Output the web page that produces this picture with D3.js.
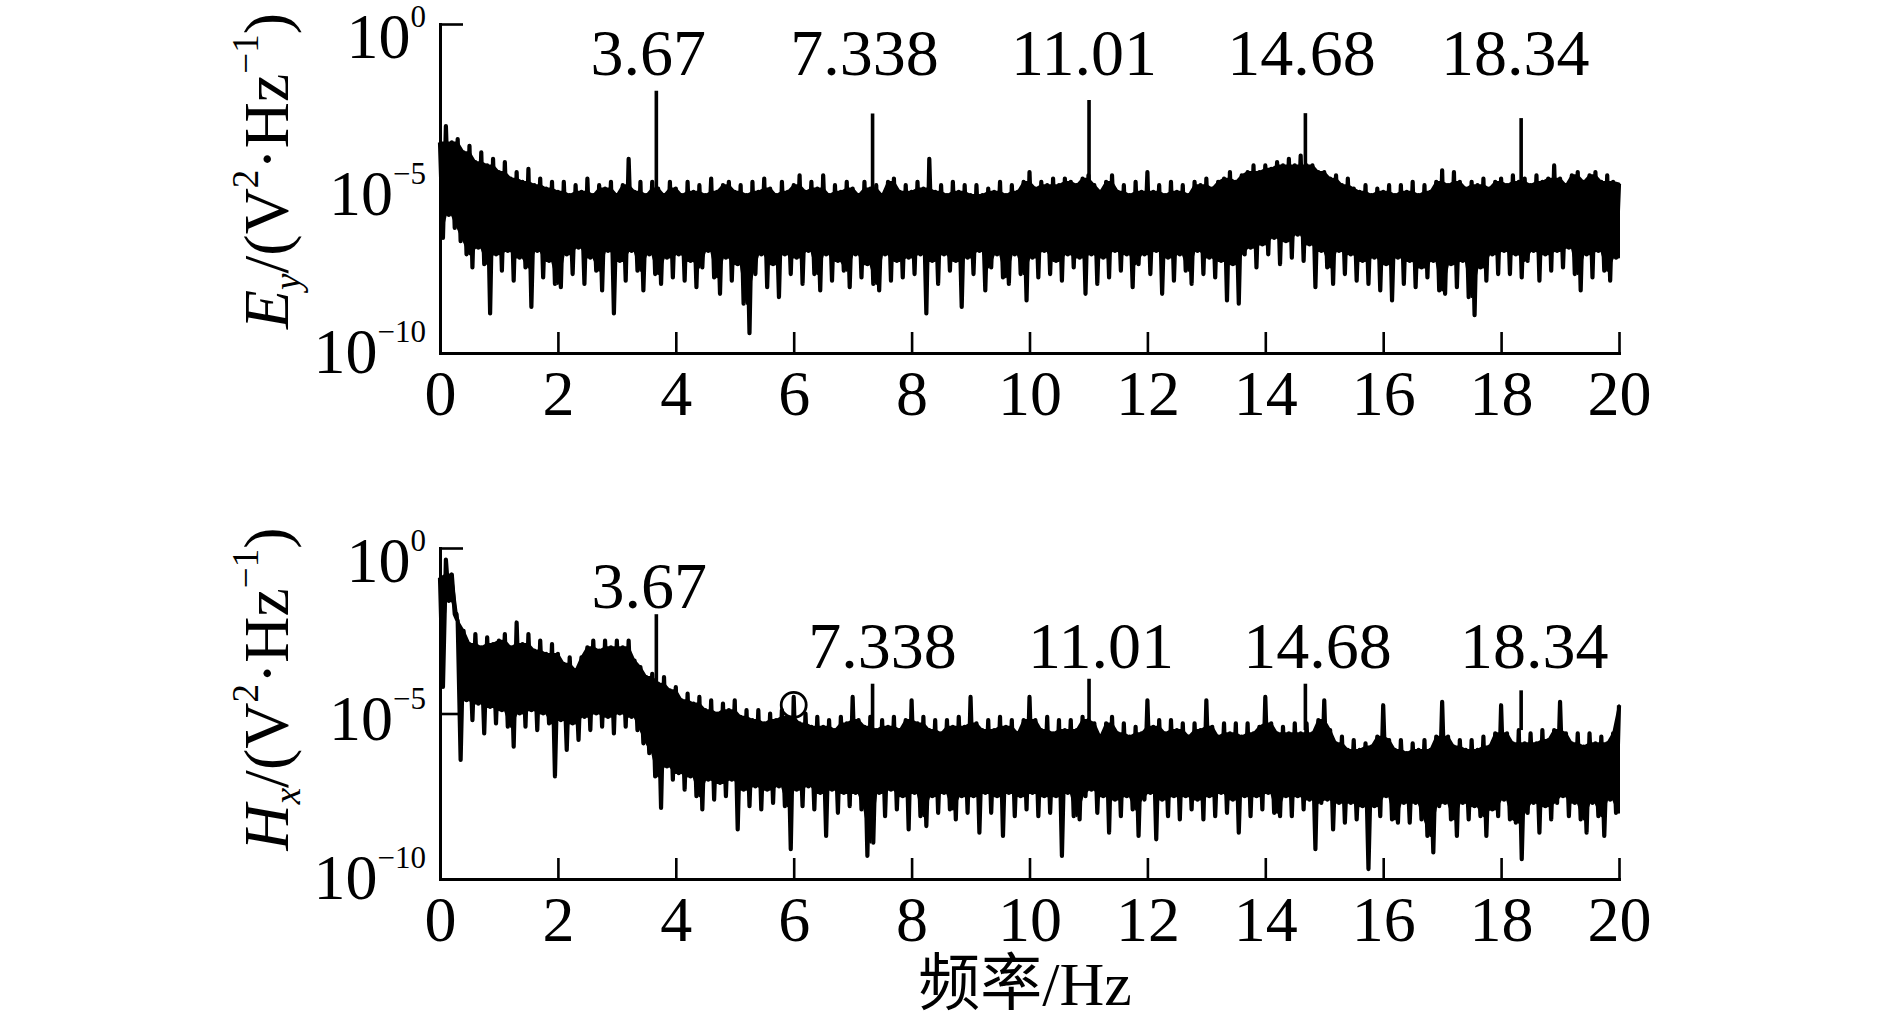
<!DOCTYPE html>
<html><head><meta charset="utf-8">
<script src="https://cdn.jsdelivr.net/npm/d3@7"></script>
<style>
html,body{margin:0;padding:0;background:#fff;}
svg{display:block;}
text{font-family:"Liberation Serif","Times New Roman",serif;fill:#000;}
</style></head><body>
<svg id="chart" width="1889" height="1025"></svg>
<script>
// ---------------- data ----------------
const STEP = 0.1; // Hz between upper-envelope readings; lower readings sit half a step later
const xTicks = [0,2,4,6,8,10,12,14,16,18,20];
const yTickExps = [0,-5,-10];
const peakFreqs = [3.67, 7.338, 11.01, 14.68, 18.34];
const peakLabels = ["3.67","7.338","11.01","14.68","18.34"];
const eyPeakExp = [-2.03,-2.72,-2.31,-2.71,-2.86];
const hxPeakExp = [-2.0,-4.1,-3.95,-4.1,-4.3];
const markFreq = 6.0, markExp = -4.74;

// log10 of PSD, upper readings at 0,0.1,...,20 Hz
const eyHi = [
-3.6,-3.1,-3.6,-3.5,-3.9,-3.7,-4.2,-3.9,-4.3,-4.1,
-4.5,-4.2,-4.7,-4.5,-4.8,-4.4,-4.9,-4.7,-5.0,-4.8,
-5.1,-4.8,-5.2,-4.9,-5.1,-4.7,-5.2,-4.9,-5.0,-4.8,
-5.2,-4.9,-4.1,-5.1,-4.8,-5.2,-4.8,-5.0,-5.2,-4.8,
-5.0,-5.2,-4.8,-5.1,-4.9,-5.2,-4.7,-5.1,-4.9,-4.8,
-5.1,-4.9,-5.2,-4.8,-5.1,-4.7,-5.0,-5.2,-4.8,-5.1,
-4.9,-4.6,-5.1,-4.8,-5.0,-4.6,-5.2,-4.9,-5.1,-4.8,
-5.0,-5.2,-4.8,-5.0,-4.9,-5.2,-4.8,-4.7,-5.1,-4.9,
-5.1,-4.8,-5.0,-4.1,-5.1,-4.9,-5.2,-4.8,-5.1,-4.9,
-5.2,-4.9,-5.2,-5.0,-5.1,-4.8,-5.2,-4.9,-5.1,-4.8,
-4.5,-5.0,-4.8,-4.9,-4.7,-4.9,-4.7,-4.8,-4.9,-4.7,
-4.6,-4.9,-5.1,-4.8,-4.6,-5.1,-4.9,-5.2,-4.8,-5.1,
-4.5,-5.1,-4.9,-5.2,-4.8,-5.1,-4.9,-5.2,-4.8,-4.9,
-4.7,-5.0,-4.8,-4.7,-4.5,-4.8,-4.6,-4.5,-4.3,-4.5,
-4.3,-4.4,-4.2,-4.3,-4.1,-4.3,-4.0,-4.3,-4.3,-4.5,
-4.5,-4.7,-4.6,-4.9,-4.7,-5.0,-5.1,-4.9,-5.2,-5.0,
-5.1,-4.9,-5.2,-4.9,-5.1,-4.8,-5.2,-4.9,-5.1,-4.8,
-4.45,-4.9,-4.5,-4.8,-5.0,-4.8,-4.9,-4.7,-5.0,-4.8,
-4.7,-4.9,-4.6,-4.8,-4.7,-4.9,-4.6,-4.8,-4.7,-4.3,
-4.7,-4.9,-4.6,-4.5,-4.8,-4.6,-4.5,-4.8,-4.6,-4.8,
-4.85];
// lower readings at 0.05,0.15,...,19.95 Hz
const eyLo = [
-6.5,-5.8,-6.2,-6.6,-7.0,-7.4,-6.8,-7.3,-8.8,-7.0,
-7.5,-6.9,-7.8,-7.1,-7.4,-8.6,-6.9,-7.7,-7.2,-7.9,
-8.0,-7.0,-7.6,-6.8,-7.9,-7.1,-7.5,-8.1,-6.9,-8.8,
-7.2,-7.8,-6.9,-7.5,-8.1,-7.0,-7.6,-7.9,-7.1,-7.7,
-7.0,-7.8,-7.2,-8.0,-7.4,-6.9,-7.7,-8.2,-7.1,-7.8,
-7.3,-8.5,-9.4,-7.6,-7.0,-8.0,-7.3,-8.3,-7.0,-7.6,
-7.1,-7.9,-6.9,-7.6,-8.1,-7.0,-7.8,-7.2,-7.5,-8.0,
-7.0,-7.7,-7.3,-7.9,-8.1,-7.0,-7.8,-7.2,-7.7,-7.1,
-7.6,-7.0,-8.8,-7.2,-7.9,-7.0,-7.5,-7.2,-8.6,-7.1,
-7.6,-6.9,-8.1,-7.4,-7.0,-7.7,-7.9,-7.0,-7.6,-8.4,
-7.1,-7.7,-6.9,-7.6,-7.2,-7.8,-7.0,-7.4,-7.1,-8.2,
-7.0,-7.9,-7.1,-7.7,-6.9,-7.5,-7.0,-8.0,-7.3,-7.0,
-7.6,-6.9,-8.2,-7.1,-7.8,-7.0,-7.5,-7.9,-6.9,-7.6,
-7.1,-7.7,-7.2,-8.4,-7.3,-8.5,-7.0,-6.8,-7.4,-6.7,
-7.0,-6.5,-7.3,-6.6,-7.1,-6.4,-7.2,-6.7,-8.0,-6.9,
-7.4,-7.9,-6.9,-7.6,-7.0,-7.8,-7.2,-7.9,-7.1,-8.1,
-7.3,-8.4,-7.1,-7.9,-7.2,-8.0,-7.4,-7.7,-7.2,-8.1,
-8.2,-7.3,-8.0,-7.2,-8.3,-8.85,-7.4,-7.8,-7.0,-7.6,
-6.9,-7.6,-7.0,-7.7,-7.2,-6.9,-7.8,-7.0,-7.5,-6.9,
-7.4,-6.8,-7.6,-8.1,-7.0,-7.7,-6.9,-7.5,-7.8,-7.1];

const hxHi = [
-0.9,-0.35,-0.8,-2.2,-2.5,-2.9,-2.6,-3.0,-2.7,-2.9,
-2.8,-2.6,-3.0,-2.25,-2.9,-2.6,-3.1,-2.8,-3.2,-2.9,
-3.2,-3.5,-3.3,-3.7,-3.3,-3.0,-2.8,-3.1,-2.8,-3.0,
-2.8,-3.0,-2.8,-3.4,-3.6,-3.9,-3.8,-4.1,-3.9,-4.3,
-4.2,-4.6,-4.4,-4.7,-4.5,-4.9,-4.6,-5.0,-4.7,-4.9,
-4.6,-5.1,-4.9,-5.2,-4.9,-5.3,-5.0,-5.2,-4.9,-5.1,
-4.5,-5.3,-5.0,-5.4,-5.1,-5.4,-5.2,-5.5,-5.1,-5.3,
-4.5,-5.2,-5.4,-5.1,-5.5,-5.2,-5.4,-5.1,-5.5,-5.2,
-4.6,-5.3,-5.1,-5.5,-5.2,-5.6,-5.2,-5.4,-5.1,-5.4,
-4.5,-5.3,-5.5,-5.2,-5.5,-5.1,-5.4,-5.2,-5.6,-5.2,
-4.5,-5.2,-5.5,-5.1,-5.6,-5.2,-5.5,-5.2,-5.5,-5.1,
-5.2,-5.3,-5.7,-5.3,-5.1,-5.6,-5.3,-5.7,-5.4,-5.6,
-4.6,-5.4,-5.2,-5.6,-5.2,-5.5,-5.3,-5.7,-5.3,-5.5,
-4.6,-5.4,-5.7,-5.3,-5.6,-5.3,-5.7,-5.3,-5.6,-5.4,
-4.5,-5.3,-5.6,-5.4,-5.6,-5.3,-5.6,-5.3,-5.6,-5.2,
-4.6,-5.5,-5.9,-5.7,-6.1,-5.8,-6.1,-5.9,-6.0,-5.7,
-4.75,-5.8,-6.1,-5.8,-6.2,-5.9,-6.1,-5.8,-6.1,-5.7,
-4.65,-5.7,-6.0,-5.8,-6.1,-5.8,-6.1,-5.7,-6.0,-5.6,
-4.75,-5.6,-5.9,-5.5,-5.9,-5.6,-5.9,-5.5,-5.8,-5.5,
-4.65,-5.6,-5.9,-5.6,-6.0,-5.6,-5.9,-5.7,-5.9,-5.6,
-4.75];
const hxLo = [
-4.2,-1.6,-2.0,-6.4,-4.6,-5.2,-4.7,-5.6,-4.8,-5.3,
-4.9,-5.4,-6.0,-5.0,-5.4,-4.9,-5.5,-5.0,-5.3,-6.9,
-5.2,-6.1,-5.3,-5.8,-5.1,-5.5,-5.0,-5.4,-5.1,-5.6,
-5.0,-5.4,-5.1,-5.5,-5.9,-6.2,-6.9,-7.85,-6.6,-7.0,
-6.8,-7.3,-6.9,-7.5,-7.9,-7.0,-7.6,-7.1,-7.5,-7.0,
-8.5,-7.3,-7.8,-7.2,-7.9,-7.3,-7.7,-7.2,-7.8,-9.1,
-7.3,-7.8,-7.2,-7.9,-7.4,-8.7,-7.3,-8.0,-7.4,-7.8,
-7.4,-7.9,-9.3,-8.9,-7.4,-8.1,-7.3,-7.9,-7.5,-8.5,
-7.4,-8.1,-8.4,-7.5,-8.0,-7.4,-7.9,-8.2,-7.5,-8.0,
-7.5,-8.6,-7.4,-8.0,-7.5,-8.7,-7.4,-8.1,-7.5,-7.9,
-7.4,-8.1,-7.5,-8.0,-7.5,-9.3,-7.4,-8.1,-8.2,-7.5,
-7.3,-8.0,-7.5,-8.6,-7.6,-8.1,-7.5,-7.9,-8.7,-7.6,
-7.4,-8.8,-7.6,-8.1,-7.5,-8.2,-7.5,-7.9,-7.6,-8.2,
-7.5,-8.1,-7.4,-8.0,-7.6,-8.6,-7.5,-8.1,-7.5,-7.9,
-7.4,-8.0,-8.1,-7.5,-8.1,-7.5,-7.9,-7.6,-9.1,-7.7,
-7.6,-8.5,-7.7,-8.3,-7.7,-8.2,-7.8,-9.7,-7.8,-8.1,
-7.5,-8.2,-8.3,-7.7,-8.3,-7.7,-8.2,-8.7,-9.2,-7.8,
-7.7,-8.2,-8.7,-7.7,-8.2,-7.8,-8.1,-8.7,-7.9,-8.1,
-7.6,-8.2,-8.3,-9.4,-8.0,-7.7,-8.6,-7.8,-8.2,-7.7,
-7.5,-8.1,-7.7,-8.2,-8.6,-7.7,-8.1,-8.7,-7.6,-8.0];

// ---------------- layout ----------------
const X0 = 440, X1 = 1619;
const FS_TICK = 64, FS_SUP = 31, FS_ANN = 66, FS_TITLE = 64, FS_TSUP = 37;
const panels = [
  {top:24, bottom:353, hi:eyHi, lo:eyLo, peaks:eyPeakExp, peakBase:-6.0,
   sym:"E", sub:"y", titleY:171, annY:[75,75,75,75,75], annDx:[-8,-8,-5,-4,-6],
   labOff:[34,26.5,20], mark:false},
  {top:548, bottom:879, hi:hxHi, lo:hxLo, peaks:hxPeakExp, peakBase:-5.5,
   sym:"H", sub:"x", titleY:689, annY:[608,668,668,668,668], annDx:[-7,10,12,12,13],
   labOff:[34,26.5,19.5], mark:true}
];

const svg = d3.select("#chart");
const x = d3.scaleLinear().domain([0,20]).range([X0,X1]);

panels.forEach(p=>{
  const y = d3.scaleLog().domain([1e-10,1]).range([p.bottom,p.top]);
  const yv = e => y(Math.pow(10,e));
  const g = svg.append("g");

  // x axis
  const gx = g.append("g").attr("transform",`translate(0,${p.bottom})`)
    .call(d3.axisBottom(x).tickValues(xTicks).tickSizeInner(-21).tickSizeOuter(0)
      .tickPadding(17).tickFormat(d3.format("d")));
  gx.attr("font-size",null).attr("font-family",null);
  gx.select(".domain").attr("stroke","#000").attr("stroke-width",3).attr("stroke-linecap","square");
  gx.selectAll(".tick line").attr("stroke","#000").attr("stroke-width",2.6);
  gx.selectAll(".tick text").attr("font-size",FS_TICK).attr("fill","#000");

  // y axis
  const gy = g.append("g").attr("transform",`translate(${X0},0)`)
    .call(d3.axisLeft(y).tickValues(yTickExps.map(e=>Math.pow(10,e)))
      .tickSizeInner(-23).tickSizeOuter(0).tickFormat(""));
  gy.attr("font-size",null).attr("font-family",null);
  gy.select(".domain").attr("stroke","#000").attr("stroke-width",3).attr("stroke-linecap","square");
  gy.selectAll(".tick line").attr("stroke","#000").attr("stroke-width",2.6);

  yTickExps.forEach((e,k)=>{
    const t = g.append("text").attr("x",X0-14).attr("y",yv(e)+p.labOff[k])
      .attr("text-anchor","end").attr("font-size",FS_TICK);
    t.append("tspan").text("10");
    t.append("tspan").attr("font-size",FS_SUP).attr("dy",-31)
      .text(e===0 ? "0" : "\u2212"+Math.abs(e));
  });

  // dense core of the spectrum: between the upper readings (isolated spikes left to the line)
  // and the shallower of the two neighbouring lower readings
  const nH = p.hi.length, nL = p.lo.length;
  const core = p.hi.map((h,i)=>{
    const hl = i>0 ? p.hi[i-1] : h, hr = i<nH-1 ? p.hi[i+1] : h;
    const ll = p.lo[Math.max(0,i-1)], lr = p.lo[Math.min(nL-1,i)];
    return {f:i*STEP, top:Math.min(h, Math.max(hl,hr)), bot:Math.max(ll,lr)};
  });
  g.append("path").datum(core)
    .attr("d",d3.area().x(d=>x(d.f)).y0(d=>yv(d.bot)).y1(d=>yv(d.top)))
    .attr("fill","#000").attr("stroke","#000").attr("stroke-width",2)
    .attr("stroke-linejoin","round");

  // spectrum line (upper/lower readings interleaved)
  const pts = [];
  p.hi.forEach((h,i)=>{
    pts.push([i*STEP,h]);
    if(i<nL) pts.push([i*STEP+STEP/2,p.lo[i]]);
  });
  g.append("path").datum(pts)
    .attr("d",d3.line().x(d=>x(d[0])).y(d=>yv(d[1])))
    .attr("fill","none").attr("stroke","#000").attr("stroke-width",4.2)
    .attr("stroke-linejoin","round");

  // harmonic peaks
  g.selectAll(".pk").data(peakFreqs).enter().append("line")
    .attr("x1",d=>x(d)).attr("x2",d=>x(d))
    .attr("y1",yv(p.peakBase)).attr("y2",(d,i)=>yv(p.peaks[i]))
    .attr("stroke","#000").attr("stroke-width",3.6);

  // peak labels
  g.selectAll(".ann").data(peakLabels).enter().append("text")
    .attr("x",(d,i)=>x(peakFreqs[i])+p.annDx[i]).attr("y",(d,i)=>p.annY[i])
    .attr("text-anchor","middle").attr("font-size",FS_ANN).text(d=>d);

  // y title
  const tt = g.append("text").attr("text-anchor","middle").attr("font-size",FS_TITLE)
    .attr("transform",`translate(288,${p.titleY}) rotate(-90)`);
  tt.append("tspan").attr("font-style","italic").text(p.sym);
  tt.append("tspan").attr("font-style","italic").attr("font-size",FS_TSUP).attr("dy",12).text(p.sub);
  tt.append("tspan").attr("dy",-12).text("/(V");
  tt.append("tspan").attr("font-size",FS_TSUP).attr("dy",-30).text("2");
  tt.append("tspan").attr("dy",30).text("\u00B7Hz");
  tt.append("tspan").attr("font-size",FS_TSUP).attr("dy",-30).text("\u22121");
  tt.append("tspan").attr("dy",30).text(")");

  if(p.mark){
    g.append("circle").attr("cx",x(markFreq)).attr("cy",yv(markExp)).attr("r",12.5)
      .attr("fill","none").attr("stroke","#000").attr("stroke-width",2.8);
  }
});

// x title
svg.append("text").attr("x",1025).attr("y",1005).attr("text-anchor","middle")
  .attr("font-size",62)
  .style("font-family","'Liberation Serif','Noto Sans CJK SC',serif")
  .text("频率/Hz");
</script>
</body></html>
